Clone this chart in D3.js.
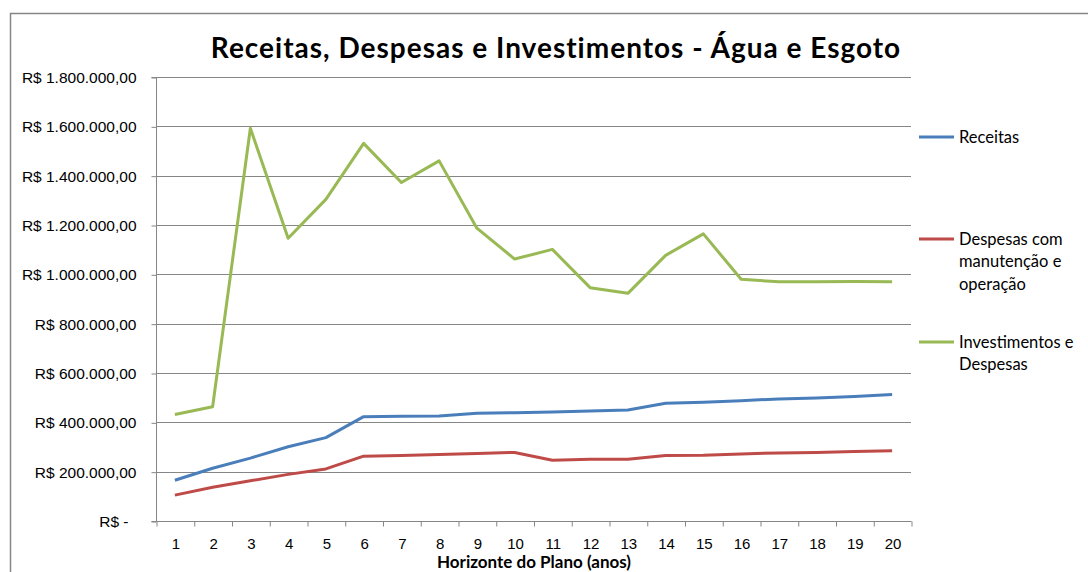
<!DOCTYPE html>
<html>
<head>
<meta charset="utf-8">
<script src="https://cdn.jsdelivr.net/npm/d3@7"></script>
<style>
  body { margin: 0; background: #fff; }
  svg { display: block; font-family: Lato, "Open Sans", sans-serif; }
  .axis text { font-size: 15px; fill: #000; }
  .axis path, .axis line { stroke: #868686; }
</style>
</head>
<body>
<div id="chart"></div>
<script>
// data
const anos = d3.range(1, 21);
const receitas = [165000, 214000, 255000, 301000, 338000, 423000, 425000, 426000, 437000, 439000,
  442000, 446000, 450000, 477000, 481000, 488000, 495000, 499000, 505000, 513000];
const despesas = [105000, 137000, 163000, 189000, 211000, 263000, 266000, 270000, 274000, 278000,
  246000, 250000, 250000, 266000, 267000, 272000, 276000, 278000, 282000, 285000];
const investimentos = [432000, 463000, 1592000, 1146000, 1304000, 1531000, 1372000, 1460000, 1187000, 1062000,
  1101000, 946000, 923000, 1077000, 1164000, 980000, 970000, 970000, 971000, 970000];
const yTicks = [0, 200000, 400000, 600000, 800000, 1000000, 1200000, 1400000, 1600000, 1800000];

const series = [
  { name: ["Receitas"], values: receitas, color: "#4A7EBB" },
  { name: ["Despesas com", "manutenção e", "operação"], values: despesas, color: "#BE4B48" },
  { name: ["Investimentos e", "Despesas"], values: investimentos, color: "#98B954" }
];

const width = 1088;
const height = 572;
const marginLeft = 156;
const marginRight = 177;
const marginTop = 77;
const marginBottom = 51;

const svg = d3.select("#chart").append("svg")
  .attr("width", width)
  .attr("height", height);

// chart frame (cut off at right and bottom)
svg.append("path")
  .attr("d", `M10.5,${height}V13.5H${width}`)
  .attr("fill", "none")
  .attr("stroke", "#868686")
  .attr("stroke-width", 1.5);

const x = d3.scaleLinear()
  .domain([0.5, 20.5])
  .range([marginLeft, width - marginRight]);

const y = d3.scaleLinear()
  .domain([0, 1800000])
  .range([height - marginBottom, marginTop]);

const br = d3.formatLocale({ decimal: ",", thousands: ".", grouping: [3], currency: ["R$ ", ""] });
const fmt = br.format(",.2f");

// gridlines
svg.append("g")
  .selectAll("line")
  .data(yTicks.slice(1))
  .join("line")
  .attr("x1", marginLeft)
  .attr("x2", width - marginRight)
  .attr("y1", (d) => Math.round(y(d)) + 0.5)
  .attr("y2", (d) => Math.round(y(d)) + 0.5)
  .attr("stroke", "#868686");

// y axis
const yAxis = svg.append("g")
  .attr("class", "axis")
  .attr("transform", `translate(${marginLeft + 0.5},0.5)`)
  .call(d3.axisLeft(y).tickValues(yTicks).tickSize(5).tickPadding(15)
    .tickFormat((d) => (d === 0 ? "R$ -" : "R$ " + fmt(d))));
yAxis.selectAll(".tick text").attr("font-size", 15.5).style("font-size", "15.5px");
yAxis.selectAll(".tick text").filter((d) => d === 0).attr("dx", -8);
yAxis.select(".domain").attr("d", `M-5,${y(0)}H0V${y(1800000)}H-5`);

// x axis: ticks between categories, labels at centres
const xAxis = svg.append("g")
  .attr("class", "axis")
  .attr("transform", `translate(0.5,${Math.round(y(0)) + 0.5})`);
xAxis.call(d3.axisBottom(x).tickValues(d3.range(0.5, 21, 1)).tickSize(5).tickFormat(""));
xAxis.select(".domain").attr("d", `M${x(0.5)},0H${x(20.5)}`);
xAxis.append("g")
  .call(d3.axisBottom(x).tickValues(anos).tickSize(0).tickPadding(17))
  .call((g) => g.select(".domain").remove());

// lines
const line = d3.line()
  .x((d, i) => x(anos[i]))
  .y((d) => y(d));

svg.append("g")
  .selectAll("path")
  .data(series)
  .join("path")
  .attr("d", (d) => line(d.values))
  .attr("fill", "none")
  .attr("stroke", (d) => d.color)
  .attr("stroke-width", 3)
  .attr("stroke-linejoin", "round");

// title
svg.append("text")
  .attr("x", 556)
  .attr("y", 58)
  .attr("text-anchor", "middle")
  .attr("font-size", 28)
  .attr("font-weight", "bold")
  .attr("letter-spacing", 1)
  .text("Receitas, Despesas e Investimentos - Água e Esgoto");

// x axis title (sits on the page edge)
svg.append("text")
  .attr("x", 534)
  .attr("y", 568)
  .attr("text-anchor", "middle")
  .attr("font-size", 17)
  .attr("font-weight", "bold")
  .text("Horizonte do Plano (anos)");

// legend
const legendY = [137, 239, 342];
const legend = svg.append("g")
  .selectAll("g")
  .data(series)
  .join("g")
  .attr("transform", (d, i) => `translate(919,${legendY[i]})`);

legend.append("line")
  .attr("x1", 0)
  .attr("x2", 35)
  .attr("stroke", (d) => d.color)
  .attr("stroke-width", 3);

legend.append("text")
  .attr("x", 40)
  .attr("font-size", 16.5)
  .selectAll("tspan")
  .data((d) => d.name)
  .join("tspan")
  .attr("x", 40)
  .attr("y", (d, i) => i * 22.5)
  .attr("dy", "0.35em")
  .text((d) => d);
</script>
</body>
</html>
